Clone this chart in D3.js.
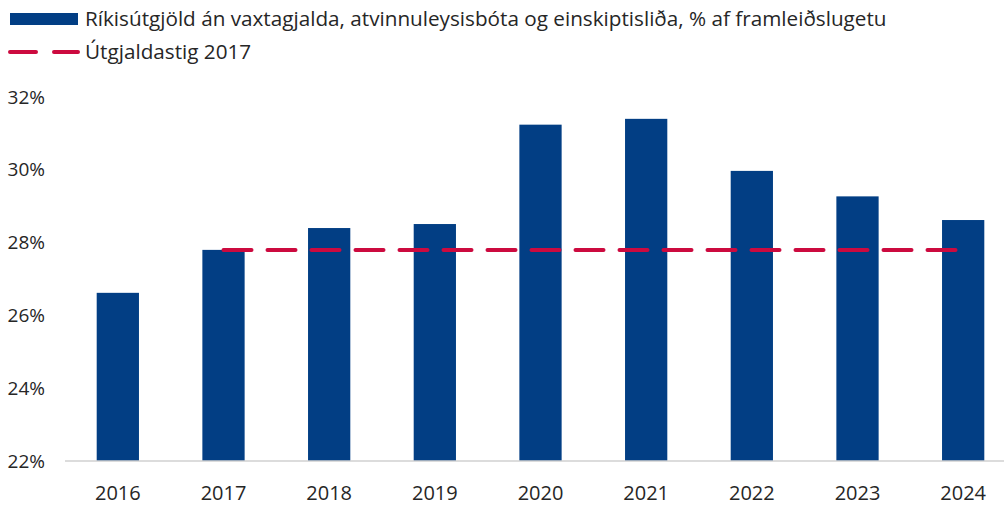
<!DOCTYPE html>
<html>
<head>
<meta charset="utf-8">
<script src="https://cdn.jsdelivr.net/npm/d3@7"></script>
<style>
  body { margin: 0; background: #fff; }
  svg { display: block; font-family: "Open Sans", sans-serif; }
</style>
</head>
<body>
<div id="chart"></div>
<script>
// data
const years = ["2016", "2017", "2018", "2019", "2020", "2021", "2022", "2023", "2024"];
const spending = [26.62, 27.80, 28.40, 28.51, 31.24, 31.40, 29.97, 29.27, 28.62];
const level2017 = 27.80;
const yTicks = [22, 24, 26, 28, 30, 32];
const legendLabels = [
  "Ríkisútgjöld án vaxtagjalda, atvinnuleysisbóta og einskiptisliða, % af framleiðslugetu",
  "Útgjaldastig 2017"
];

const width = 1004, height = 505;
const barColor = "#023e84", lineColor = "#cc0a3f", textColor = "#262626";

const svg = d3.select("#chart").append("svg")
  .attr("width", width)
  .attr("height", height);

const x = d3.scaleBand()
  .domain(years)
  .range([65, 1016])
  .paddingInner(0.6)
  .paddingOuter(0.3);

const y = d3.scaleLinear()
  .domain([22, 32])
  .range([461, 97]);

// y tick labels (no axis line)
svg.append("g")
  .selectAll("text")
  .data(yTicks)
  .join("text")
    .attr("x", 45)
    .attr("y", d => y(d))
    .attr("dy", "0.35em")
    .attr("text-anchor", "end")
    .attr("fill", textColor)
    .style("font-size", "19px")
    .text(d => d + "%");

// bars
svg.append("g")
  .selectAll("rect")
  .data(spending)
  .join("rect")
    .attr("x", (d, i) => x(years[i]))
    .attr("y", d => y(d))
    .attr("width", x.bandwidth())
    .attr("height", d => y(22) - y(d))
    .attr("fill", barColor);

// baseline
svg.append("line")
  .attr("x1", 65).attr("x2", width)
  .attr("y1", y(22)).attr("y2", y(22))
  .attr("stroke", "#d0d0d0")
  .attr("stroke-width", 1.5);

// x labels
svg.append("g")
  .selectAll("text")
  .data(years)
  .join("text")
    .attr("x", d => x(d) + x.bandwidth() / 2)
    .attr("y", 500)
    .attr("text-anchor", "middle")
    .attr("fill", textColor)
    .style("font-size", "20px")
    .text(d => d);

// 2017 level line, from 2017 to 2024
const lineYears = years.slice(1);
const line = d3.line()
  .x(d => x(d) + x.bandwidth() / 2)
  .y(() => y(level2017));

svg.append("path")
  .datum(lineYears)
  .attr("d", line)
  .attr("fill", "none")
  .attr("stroke", lineColor)
  .attr("stroke-width", 4)
  .attr("stroke-linecap", "round")
  .attr("stroke-dasharray", "28,16");

// legend
svg.append("rect")
  .attr("x", 10).attr("y", 13)
  .attr("width", 68).attr("height", 12)
  .attr("fill", barColor);

svg.append("line")
  .attr("x1", 10).attr("x2", 78)
  .attr("y1", 52).attr("y2", 52)
  .attr("stroke", lineColor)
  .attr("stroke-width", 4)
  .attr("stroke-linecap", "round")
  .attr("stroke-dasharray", "26,18");

svg.append("g")
  .selectAll("text")
  .data(legendLabels)
  .join("text")
    .attr("x", 85)
    .attr("y", (d, i) => 26 + i * 33)
    .attr("fill", textColor)
    .style("font-size", "20.7px")
    .text(d => d);
</script>
</body>
</html>
